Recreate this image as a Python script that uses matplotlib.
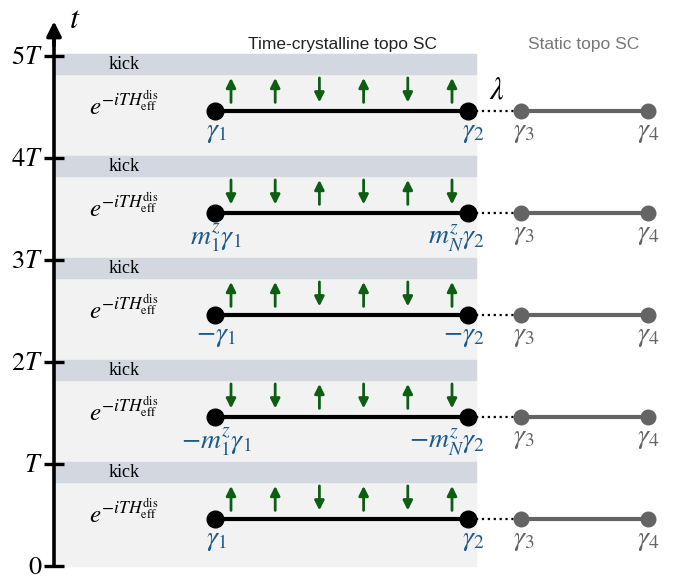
import numpy as np
import matplotlib
matplotlib.use('Agg')
import matplotlib.pyplot as plt
from matplotlib.patches import Rectangle

plt.rcParams['mathtext.fontset'] = 'stix'
plt.rcParams['font.family'] = ['Liberation Serif', 'DejaVu Serif']

# periods (in units of T), bottom to top
periods = [0, 1, 2, 3, 4]
# spin pattern on the 6 sites for each period (+1 up, -1 down)
spins = [
    [1, 1, -1, 1, -1, 1],
    [-1, -1, 1, -1, 1, -1],
    [1, 1, -1, 1, -1, 1],
    [-1, -1, 1, -1, 1, -1],
    [1, 1, -1, 1, -1, 1],
]
left_labels = [r'$\gamma_1$', r'$-m_1^z\gamma_1$', r'$-\gamma_1$',
               r'$m_1^z\gamma_1$', r'$\gamma_1$']
right_labels = [r'$\gamma_2$', r'$-m_N^z\gamma_2$', r'$-\gamma_2$',
                r'$m_N^z\gamma_2$', r'$\gamma_2$']
tick_labels = [r'$0$', r'$T$', r'$2T$', r'$3T$', r'$4T$', r'$5T$']

blue = '#1a5a8c'
green = '#0d5e12'
grey = '#646464'

fig = plt.figure(figsize=(6.76, 5.76), dpi=100)
ax = fig.add_axes([0, 0, 1, 1])
# x in pixels, y in units of T
ax.set_xlim(0, 676)
ax.set_ylim(-10 / 102, 566 / 102)

# background + kick bands
ax.add_patch(Rectangle((55, 0), 421, 5.02, color='#f2f2f2', zorder=0))
for k in periods:
    ax.add_patch(Rectangle((55, k + 0.82), 421, 0.2, color='#d3d7df', zorder=1))
    ax.text(124, k + 0.92, 'kick', ha='center', va='center', fontsize=13)
    ax.text(124, k + 0.51, r'$e^{-iTH_{\rm eff}^{\rm dis}}$', ha='center',
            va='center', fontsize=18)

x1, x2, x3, x4 = 215, 468, 521, 648
site_x = np.linspace(231, 452, 6)
for k, sp, ll, rl in zip(periods, spins, left_labels, right_labels):
    yc = k + 0.46
    ax.plot([x1, x2], [yc, yc], '-', color='k', lw=3, zorder=3)
    ax.plot([x1, x2], [yc, yc], 'o', color='k', ms=12, zorder=4)
    ax.plot([x2 + 8, x3 - 6], [yc, yc], ':', color='k', lw=1.6, zorder=2)
    ax.plot([x3, x4], [yc, yc], '-', color=grey, lw=3, zorder=3)
    ax.plot([x3, x4], [yc, yc], 'o', color=grey, ms=10.5, zorder=4)
    for xs, s in zip(site_x, sp):
        y0 = k + 0.665 - s * 0.12
        y1 = k + 0.665 + s * 0.12
        ax.annotate('', xy=(xs, y1), xytext=(xs, y0),
                    arrowprops=dict(arrowstyle='-|>', color=green, lw=2,
                                    mutation_scale=14, shrinkA=0, shrinkB=0))
    ax.text(x1 + 1, yc - 0.09, ll, ha='center', va='top', fontsize=20, color=blue)
    ax.text(x2 + 17, yc - 0.09, rl, ha='right', va='top', fontsize=20, color=blue)
    ax.text(x3 + 3, yc - 0.09, r'$\gamma_3$', ha='center', va='top', fontsize=20, color=grey)
    ax.text(x4, yc - 0.09, r'$\gamma_4$', ha='center', va='top', fontsize=20, color=grey)

ax.text(497, 4.66, r'$\lambda$', ha='center', va='center', fontsize=22)

ax.text(343, 5.11, 'Time-crystalline topo SC', ha='center', va='center',
        fontsize=12.5, family='Liberation Sans', color='#222222')
ax.text(584, 5.11, 'Static topo SC', ha='center', va='center',
        fontsize=12.5, family='Liberation Sans', color='#777777')

# time axis
for s in ['top', 'right', 'bottom']:
    ax.spines[s].set_visible(False)
ax.spines['left'].set_position(('data', 54))
ax.spines['left'].set_bounds(0, 5.2)
ax.spines['left'].set_linewidth(2.6)
ax.set_xticks([])
ax.set_yticks(periods + [5])
ax.set_yticklabels(tick_labels, fontsize=19)
ax.tick_params(axis='y', direction='inout', length=14, width=2.4, pad=1)
ax.annotate('', xy=(54, 5.34), xytext=(54, 5.1),
            arrowprops=dict(arrowstyle='-|>', color='k', lw=2.6,
                            mutation_scale=22, shrinkA=0, shrinkB=0))
ax.text(75, 5.35, r'$t$', ha='center', va='center', fontsize=23)

fig.savefig('out.png', dpi=100)
